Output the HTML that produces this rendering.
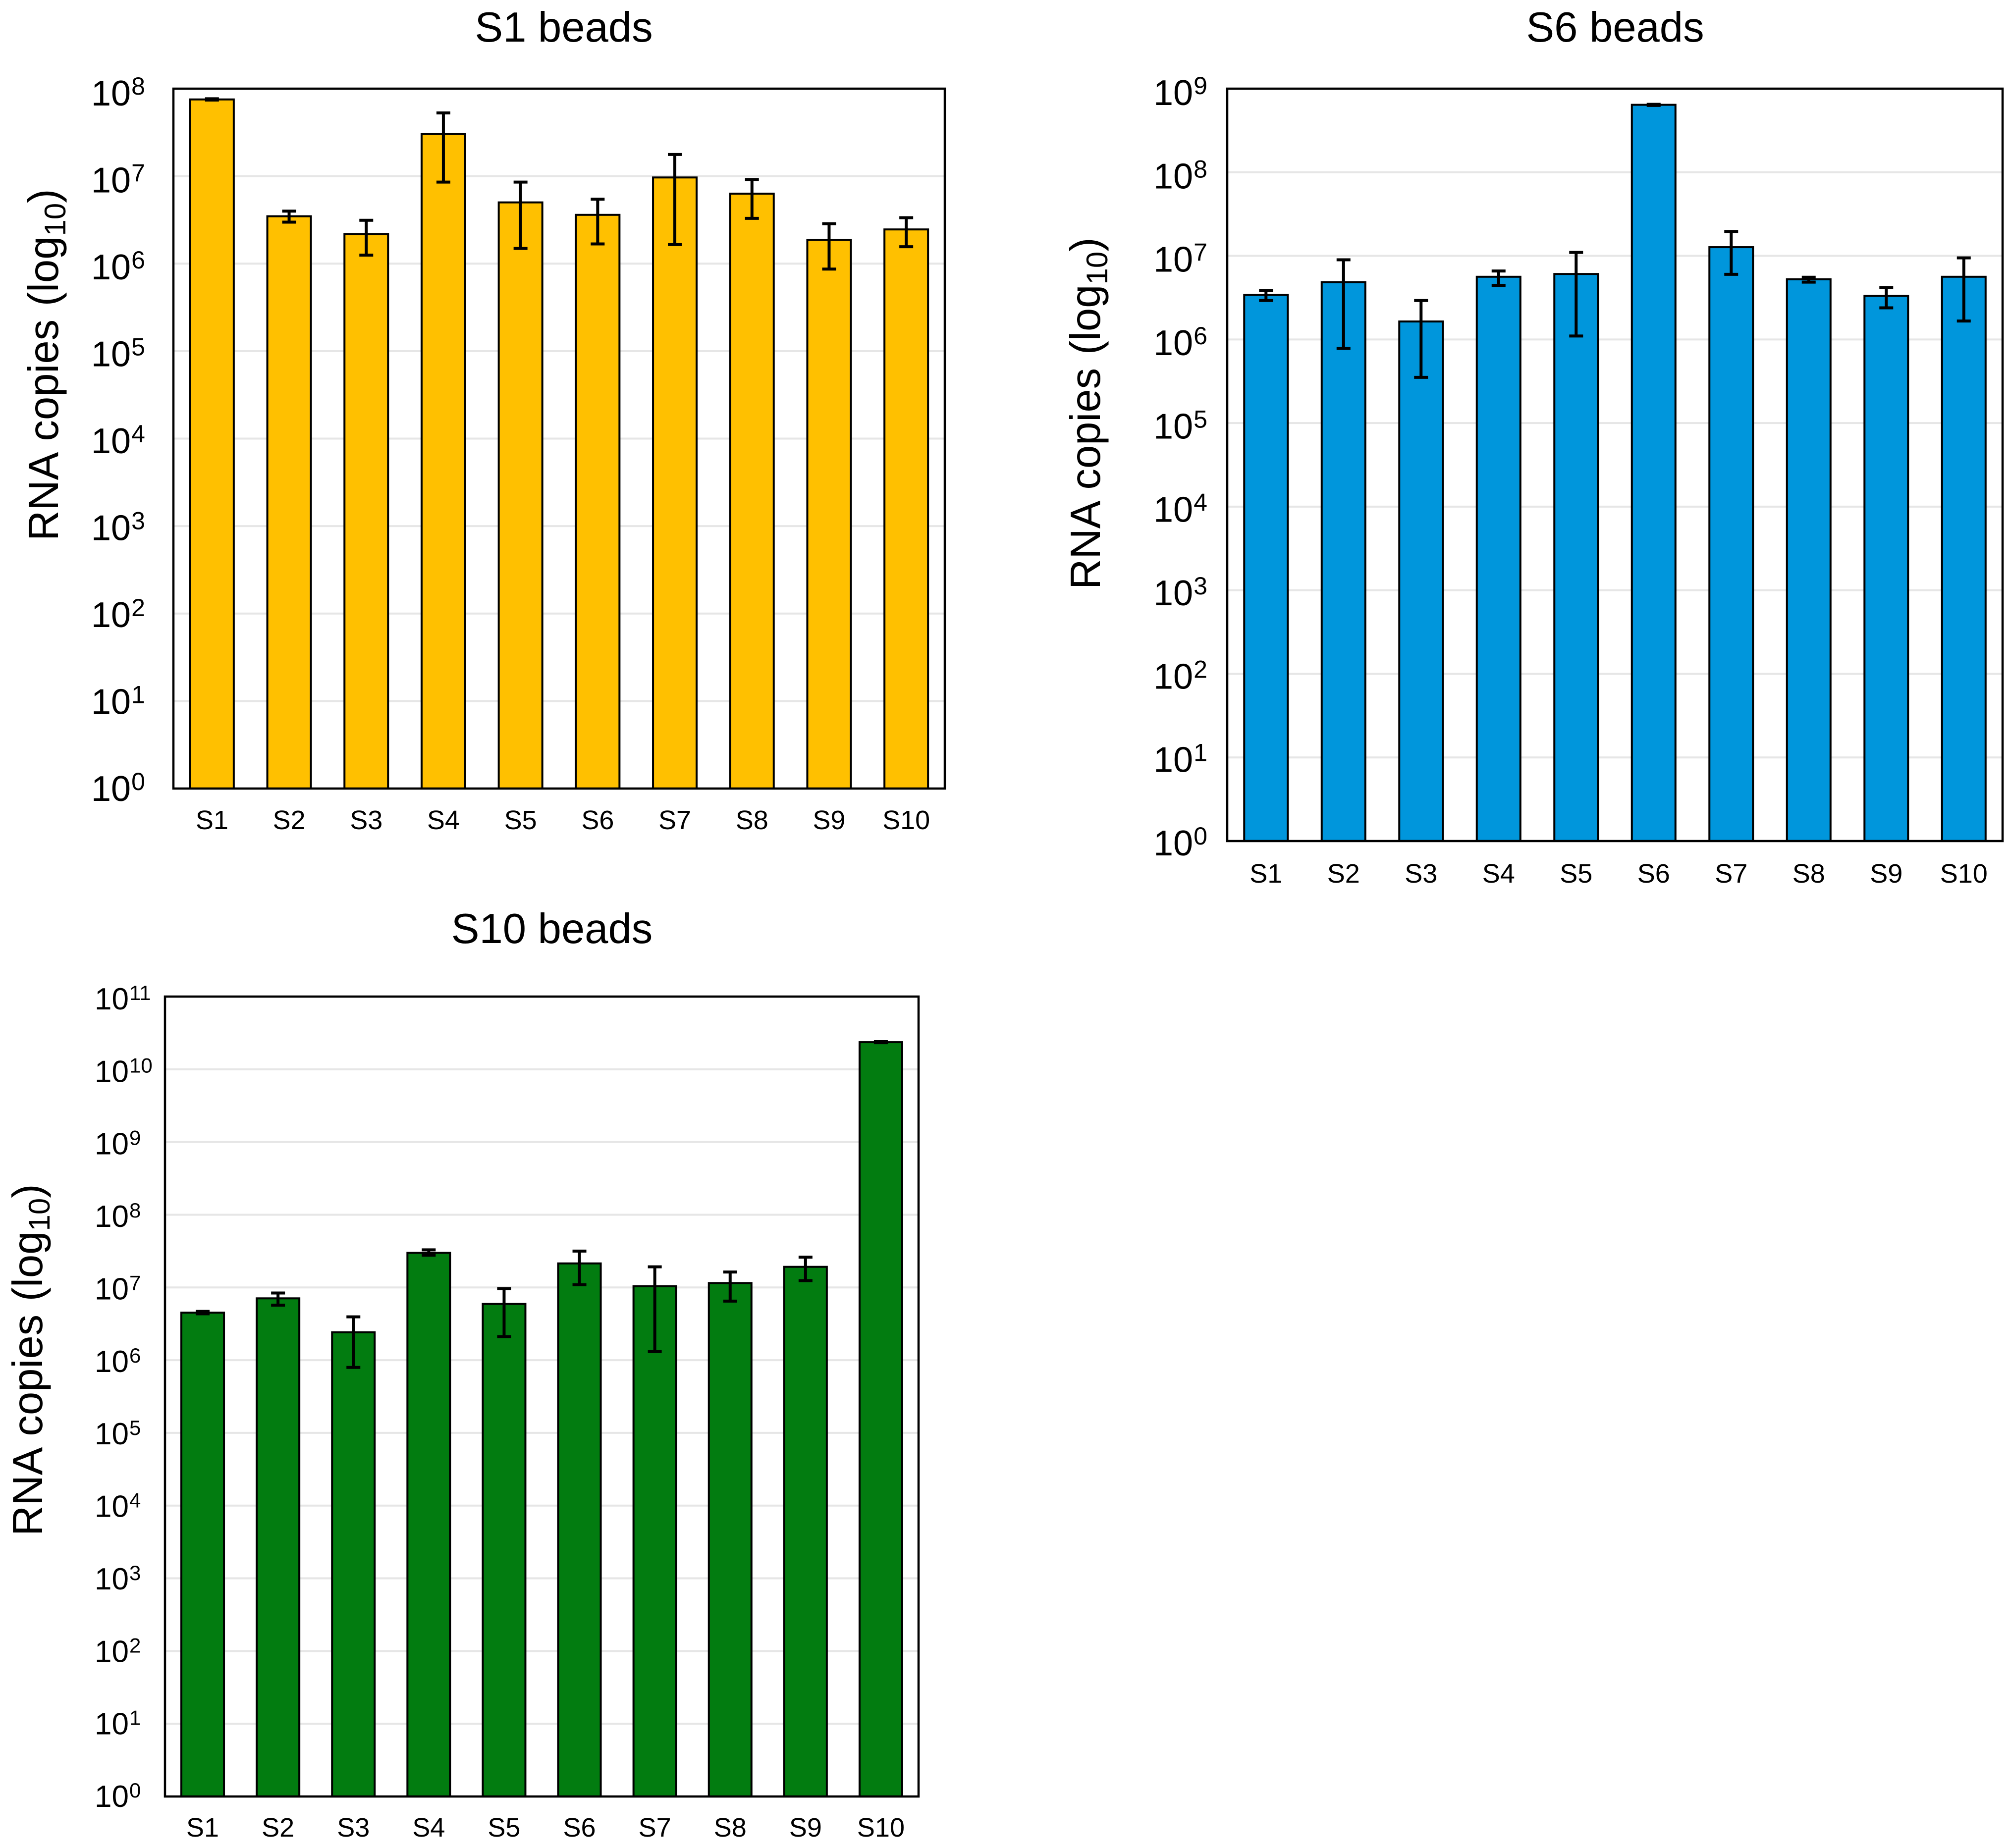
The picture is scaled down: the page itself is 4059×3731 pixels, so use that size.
<!DOCTYPE html>
<html lang="en">
<head>
<meta charset="utf-8">
<title>RNA copies by bead type</title>
<style>
html,body{margin:0;padding:0;background:#fff;}
svg{display:block;}
text{font-family:"Liberation Sans",Arial,sans-serif;fill:#000;}
</style>
</head>
<body>
<svg id="figure" xmlns="http://www.w3.org/2000/svg" width="4059" height="3731" viewBox="0 0 4059 3731">
  <rect x="0" y="0" width="4059" height="3731" fill="#ffffff"/>

  <g id="chart-s1">
    <text x="1138" y="84" font-size="85" text-anchor="middle">S1 beads</text>
    <text transform="translate(117 1092) rotate(-90)" font-size="85" word-spacing="3">RNA copies (log<tspan font-size="60" dy="15">10</tspan><tspan dy="-15">)</tspan></text>
  </g>

  <g id="chart-s6">
    <text x="3260" y="84" font-size="85" text-anchor="middle">S6 beads</text>
    <text transform="translate(2220 1190) rotate(-90)" font-size="85" word-spacing="3">RNA copies (log<tspan font-size="60" dy="15">10</tspan><tspan dy="-15">)</tspan></text>
  </g>

  <g id="chart-s10">
    <text x="1114" y="1904" font-size="85" text-anchor="middle">S10 beads</text>
    <text transform="translate(85 3101) rotate(-90)" font-size="85" word-spacing="3">RNA copies (log<tspan font-size="60" dy="15">10</tspan><tspan dy="-15">)</tspan></text>
  </g>
</svg>

<script>
const categories = ['S1','S2','S3','S4','S5','S6','S7','S8','S9','S10'];

const s1Ticks = [0,1,2,3,4,5,6,7,8];
const s1Values = [7.53e7,3.48e6,2.18e6,3.03e7,5.01e6,3.61e6,9.66e6,6.31e6,1.87e6,2.46e6];
const s1High   = [7.67e7,3.98e6,3.13e6,5.28e7,8.55e6,5.45e6,1.77e7,9.16e6,2.86e6,3.35e6];
const s1Low    = [7.41e7,2.98e6,1.25e6,8.55e6,1.49e6,1.68e6,1.65e6,3.29e6,8.67e5,1.56e6];

const s6Ticks = [0,1,2,3,4,5,6,7,8,9];
const s6Values = [3.41e6,4.85e6,1.64e6,5.62e6,6.07e6,6.41e8,1.27e7,5.25e6,3.32e6,5.62e6];
const s6High   = [3.84e6,8.97e6,2.92e6,6.59e6,1.10e7,6.50e8,1.96e7,5.55e6,4.18e6,9.46e6];
const s6Low    = [2.92e6,7.80e5,3.52e5,4.44e6,1.10e6,6.30e8,6.01e6,4.85e6,2.39e6,1.66e6];

const s10Ticks = [0,1,2,3,4,5,6,7,8,9,10,11];
const s10Values = [4.50e6,7.08e6,2.42e6,2.99e7,5.93e6,2.14e7,1.04e7,1.15e7,1.92e7,2.36e10];
const s10High   = [4.68e6,8.38e6,3.94e6,3.29e7,9.64e6,3.16e7,1.92e7,1.63e7,2.61e7,2.40e10];
const s10Low    = [4.34e6,5.71e6,7.94e5,2.77e7,2.11e6,1.09e7,1.31e6,6.49e6,1.24e7,2.32e10];

const NS = 'http://www.w3.org/2000/svg';

function make(tag, attrs, parent) {
  const el = document.createElementNS(NS, tag);
  for (const k in attrs) el.setAttribute(k, attrs[k]);
  parent.appendChild(el);
  return el;
}

function drawChart(o) {
  const root = document.getElementById(o.id);
  const maxExp = o.ticks[o.ticks.length - 1];
  const minExp = o.ticks[0];
  const yScale = v => o.bottom - (Math.log10(v) - minExp) / (maxExp - minExp) * (o.bottom - o.top);
  const step = (o.right - o.left) / o.categories.length;
  const xScale = i => o.left + step * (i + 0.5);

  // gridlines (inside the plot only)
  o.ticks.forEach(t => {
    if (t === minExp || t === maxExp) return;
    const y = yScale(Math.pow(10, t));
    const grid = make('line', {x1:o.left, x2:o.right, y1:y, y2:y, stroke:'#e6e6e6', 'stroke-width':4}, root);
    
    
  });

  // y tick labels
  o.ticks.forEach(t => {
    const frac = (t - minExp) / (maxExp - minExp);
    const by = o.labelBottomY + (o.labelTopY - o.labelBottomY) * frac;
    const label = make('text', {x:o.tickX, y:by, 'font-size':o.tickSize}, root);
    
    
    label.appendChild(document.createTextNode('10'));
    const sup = make('tspan', {'font-size':o.supSize, dy:-o.supRise, dx:1}, label);
    sup.textContent = String(t);
  });

  // bars
  o.values.forEach((v, i) => {
    const cx = xScale(i);
    const y = yScale(v);
    const bar = make('rect', {x:cx - o.barWidth / 2, y:y, width:o.barWidth, height:o.bottom - y, fill:o.color, stroke:'#000', 'stroke-width':4}, root);
    
    
  });

  // error bars
  o.values.forEach((v, i) => {
    const cx = xScale(i);
    const yHi = yScale(o.high[i]);
    const yLo = yScale(o.low[i]);
    const g = make('g', {stroke:'#000', 'stroke-width':6}, root);
    
    
    make('line', {x1:cx, x2:cx, y1:yHi, y2:yLo}, g);
    make('line', {x1:cx - 14, x2:cx + 14, y1:yHi, y2:yHi}, g);
    make('line', {x1:cx - 14, x2:cx + 14, y1:yLo, y2:yLo}, g);
  });

  // x labels
  o.categories.forEach((c, i) => {
    const label = make('text', {x:xScale(i), y:o.xLabelY, 'font-size':54, 'text-anchor':'middle'}, root);
    
    
    label.textContent = c;
  });

  // plot frame
  const frame = make('rect', {x:o.left, y:o.top, width:o.right - o.left, height:o.bottom - o.top, fill:'none', stroke:'#000', 'stroke-width':4.5}, root);
  
  
}

drawChart({id:'chart-s1', categories:categories, ticks:s1Ticks, values:s1Values, high:s1High, low:s1Low,
  color:'#FFC000', left:350, right:1907, top:179, bottom:1592, barWidth:88,
  tickX:184, labelTopY:213, labelBottomY:1617, tickSize:72, supSize:50, supRise:22, xLabelY:1674});

drawChart({id:'chart-s6', categories:categories, ticks:s6Ticks, values:s6Values, high:s6High, low:s6Low,
  color:'#0096DC', left:2477, right:4042, top:179, bottom:1698, barWidth:88,
  tickX:2328, labelTopY:212, labelBottomY:1727, tickSize:72, supSize:50, supRise:22, xLabelY:1782});

drawChart({id:'chart-s10', categories:categories, ticks:s10Ticks, values:s10Values, high:s10High, low:s10Low,
  color:'#027C10', left:333, right:1854, top:2012, bottom:3627, barWidth:86,
  tickX:191, labelTopY:2038, labelBottomY:3648, tickSize:62, supSize:42, supRise:19, xLabelY:3708});
</script>
</body>
</html>
